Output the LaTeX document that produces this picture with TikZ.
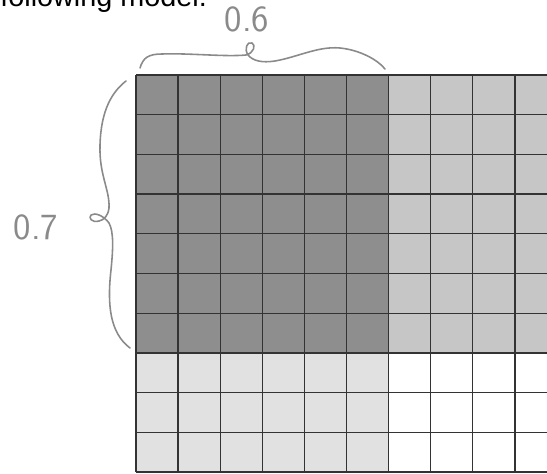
\documentclass[tikz,border=0pt]{standalone}
\usepackage{fontspec}
\usepackage{xcolor}
\newfontfamily\introfont{Liberation Sans}
\definecolor{shadeA}{HTML}{8E8E8E}
\definecolor{shadeB}{HTML}{C6C6C6}
\definecolor{shadeC}{HTML}{E1E1E1}
\definecolor{pencil}{HTML}{8A8A8A}
\definecolor{gridline}{HTML}{333333}
\begin{document}
\begin{tikzpicture}[x=0.02cm, y=-0.02cm,
  tile/.style={draw=gridline, line width=0.7pt},
  curly/.style={draw=pencil, line width=0.9pt, line cap=round, line join=round},
  hand/.style={text=pencil, inner sep=0pt, font=\sffamily\fontsize{21}{21}\selectfont}]
\useasboundingbox (0,0) rectangle (547,473);
\clip (0,0) rectangle (547,473);
\def\cw{42.1} \def\ch{39.7}
\node[anchor=base west, inner sep=0pt, font=\introfont\fontsize{16.4}{18}\selectfont] (intro) at (0,7) {following model.};
% shaded parts of the 10 by 10 square
\fill[shadeA] (136,75) rectangle ++(6*\cw,7*\ch);
\fill[shadeB] (136+6*\cw,75) rectangle ++(4*\cw,7*\ch);
\fill[shadeC] (136,75+7*\ch) rectangle ++(6*\cw,3*\ch);
\foreach \i in {0,...,10}
  \draw[tile] (136+\i*\cw,75) -- ++(0,10*\ch);
\foreach \j in {0,...,10}
  \draw[tile] (136,75+\j*\ch) -- ++(10*\cw,0);
% hand drawn braces
\draw[curly] (140,68) .. controls (143,58) and (148,54) .. (162,54)
  .. controls (190,53) and (225,57) .. (246,55)
  .. controls (254,53) and (256,45) .. (252,43)
  .. controls (247,41) and (244,49) .. (248,55)
  .. controls (253,61) and (262,63) .. (275,61)
  .. controls (298,57) and (318,46) .. (340,48)
  .. controls (360,50) and (378,60) .. (385,69);
\draw[curly] (126,81) .. controls (112,92) and (101,110) .. (100,145)
  .. controls (99,175) and (110,190) .. (109,208)
  .. controls (108,216) and (104,220) .. (99,221)
  .. controls (92,223) and (88,218) .. (91,215)
  .. controls (95,212) and (104,216) .. (109,223)
  .. controls (114,232) and (113,250) .. (111,270)
  .. controls (107,305) and (110,333) .. (130,348);
\node[hand] (six) at (247,19) {0.6};
\node[hand] (seven) at (36,227) {0.7};
\end{tikzpicture}
\end{document}
